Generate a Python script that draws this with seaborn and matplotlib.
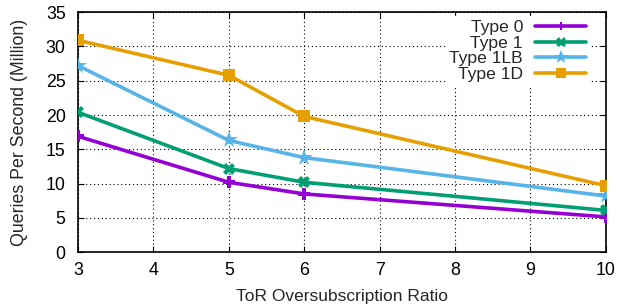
import numpy as np
import pandas as pd
import seaborn as sns
import matplotlib.pyplot as plt

# ToR oversubscription ratios and measured throughput (million queries/s)
ratios = [3, 5, 6, 10]
series_names = ["Type 0", "Type 1", "Type 1LB", "Type 1D"]
type0 = [16.9, 10.2, 8.5, 5.15]
type1 = [20.4, 12.2, 10.2, 6.1]
type1lb = [27.2, 16.3, 13.8, 8.2]
type1d = [30.9, 25.8, 19.8, 9.7]

xticks = [3, 4, 5, 6, 7, 8, 9, 10]
yticks = [0, 5, 10, 15, 20, 25, 30, 35]

colors = ["#9400d3", "#009e73", "#56b4e9", "#e69f00"]
markers = ["P", "X", "*", "s"]
msizes = [8, 9, 13, 9]

rows = []
for name, vals in zip(series_names, [type0, type1, type1lb, type1d]):
	for r, v in zip(ratios, vals):
		rows.append({"ratio": r, "qps": v, "type": name})
df = pd.DataFrame(rows)

sns.set_theme(style="white")
plt.rcParams['font.family'] = ['Liberation Sans', 'DejaVu Sans']

fig, ax = plt.subplots(figsize=(6.2, 3.05), dpi=100)
fig.subplots_adjust(left=0.126, right=0.977, top=0.96, bottom=0.173)

sns.lineplot(data=df, x="ratio", y="qps", hue="type", style="type",
	hue_order=series_names, style_order=series_names,
	palette=dict(zip(series_names, colors)),
	markers=dict(zip(series_names, markers)), dashes=False,
	linewidth=2.6, markeredgewidth=0, ax=ax, zorder=3, legend=False)

lines = ax.get_lines()[:4]
for ln, ms in zip(lines, msizes):
	ln.set_markersize(ms)

ax.set_xlim(3, 10)
ax.set_ylim(0, 35)
ax.set_xticks(xticks)
ax.set_yticks(yticks)
ax.grid(True, color="black", linestyle=(0, (1, 2.5)), linewidth=0.8)
ax.tick_params(direction="in", length=4, width=0.8, labelsize=12.8,
	top=True, right=True, bottom=True, left=True, colors="black")
ax.tick_params(axis="x", pad=7)
ax.tick_params(axis="y", pad=9)
for s in ax.spines.values():
	s.set_color("black")
	s.set_linewidth(1.2)

ax.set_xlabel("ToR Oversubscription Ratio", fontsize=12.5, labelpad=7)
ax.set_ylabel("Queries Per Second (Million)", fontsize=12.8, labelpad=13)

leg = ax.legend(lines, series_names, loc="upper right", markerfirst=False,
	bbox_to_anchor=(0.969, 0.983),
	frameon=True, fontsize=12.6, handlelength=2.9, labelspacing=0.02,
	borderaxespad=0, handletextpad=0.7, borderpad=0.2, markerscale=0.8)
leg.get_frame().set_edgecolor("white")
leg.get_frame().set_facecolor("white")
leg.get_frame().set_alpha(1)
leg.get_frame().set_boxstyle("square", pad=0)

plt.savefig("out.png", dpi=100)
